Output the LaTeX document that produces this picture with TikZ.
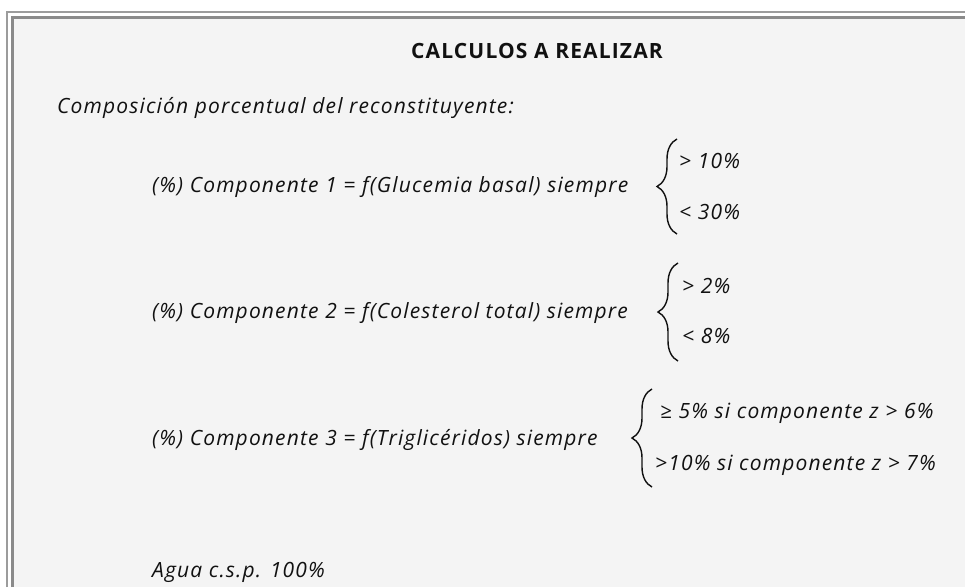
\documentclass[tikz,border=0pt]{standalone}
\usepackage{fontspec}
\setmainfont{Open Sans}[LetterSpace=5.5]
\usetikzlibrary{decorations.pathreplacing}
\definecolor{bgfill}{HTML}{F4F4F4}
\definecolor{frameouter}{HTML}{9C9C9C}
\definecolor{frameinner}{HTML}{8A8A8A}
\definecolor{txt}{HTML}{111111}
\tikzset{
  txtnode/.style={inner sep=0pt, anchor=base west, text=txt, font=\fontsize{21}{24}\selectfont\itshape},
  titlenode/.style={inner sep=0pt, anchor=base, text=txt, font=\fontsize{21}{24}\selectfont\bfseries},
  bracepath/.style={draw=txt, line width=1.4pt, decorate, decoration={brace, amplitude=20pt}}
}
\begin{document}
\begin{tikzpicture}[x=1pt,y=-1pt]
\useasboundingbox (0,0) rectangle (965,587);
\fill[white] (0,0) rectangle (965,587);
\fill[bgfill] (13,18) rectangle (965,587);
\draw[frameouter, line width=2pt] (6.5,587) -- (6.5,12) -- (965,12);
\draw[frameinner, line width=2.5pt] (12.5,587) -- (12.5,17.5) -- (965,17.5);

\node[titlenode] (title) at (537,58) {CALCULOS A REALIZAR};
\node[txtnode] (comp) at (57,113) {Composición porcentual del reconstituyente:};

\node[txtnode] (l1) at (152,192) {(\%) Componente 1 = f(Glucemia basal) siempre};
\node[txtnode] (l1a) at (679,168) {> 10\%};
\node[txtnode] (l1b) at (679,219) {< 30\%};
\coordinate (b1t) at (677,139);
\coordinate (b1b) at (677,234);
\draw[bracepath] (b1b) -- (b1t);

\node[txtnode] (l2) at (152,318) {(\%) Componente 2 = f(Colesterol total) siempre};
\node[txtnode] (l2a) at (682,293) {> 2\%};
\node[txtnode] (l2b) at (682,343) {< 8\%};
\coordinate (b2t) at (678,263);
\coordinate (b2b) at (678,361);
\draw[bracepath] (b2b) -- (b2t);

\node[txtnode] (l3) at (152,445) {(\%) Componente 3 = f(Triglicéridos) siempre};
\node[txtnode] (l3a) at (660,418) {≥ 5\% si componente z > 6\%};
\node[txtnode] (l3b) at (655,470) {>10\% si componente z > 7\%};
\coordinate (b3t) at (652,389);
\coordinate (b3b) at (652,487);
\draw[bracepath] (b3b) -- (b3t);

\node[txtnode] (agua) at (152,577) {Agua c.s.p. 100\%};
\end{tikzpicture}
\end{document}
